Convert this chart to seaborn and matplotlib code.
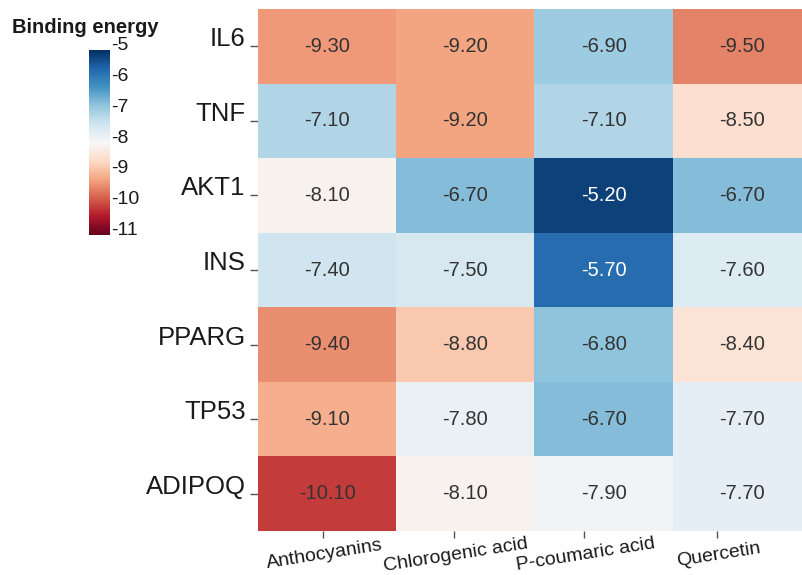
import numpy as np
import pandas as pd
import matplotlib
matplotlib.use("Agg")
import matplotlib.pyplot as plt
import seaborn as sns

# Docking binding energies (kcal/mol) of each compound against each target
targets = ["IL6", "TNF", "AKT1", "INS", "PPARG", "TP53", "ADIPOQ"]
compounds = ["Anthocyanins", "Chlorogenic acid", "P-coumaric acid", "Quercetin"]
anthocyanins = [-9.30, -7.10, -8.10, -7.40, -9.40, -9.10, -10.10]
chlorogenic_acid = [-9.20, -9.20, -6.70, -7.50, -8.80, -7.80, -8.10]
p_coumaric_acid = [-6.90, -7.10, -5.20, -5.70, -6.80, -6.70, -7.90]
quercetin = [-9.50, -8.50, -6.70, -7.60, -8.40, -7.70, -7.70]
cbar_ticks = [-5, -6, -7, -8, -9, -10, -11]

df = pd.DataFrame(
    {
        compounds[0]: anthocyanins,
        compounds[1]: chlorogenic_acid,
        compounds[2]: p_coumaric_acid,
        compounds[3]: quercetin,
    },
    index=targets,
)

sns.set_theme(style="white")
plt.rcParams["font.family"] = ["Liberation Sans", "DejaVu Sans"]

fig = plt.figure(figsize=(8.02, 5.75), dpi=100)
ax = fig.add_axes([0.3217, 0.0765, 0.6895, 0.9078])
cax = fig.add_axes([0.111, 0.5913, 0.026, 0.3217])

sns.heatmap(
    df,
    ax=ax,
    cbar_ax=cax,
    cmap="RdBu",
    vmin=-11,
    vmax=-5,
    annot=True,
    fmt=".2f",
    annot_kws={"fontsize": 14.5},
    linewidths=0,
)

# light text on the darkest blue cells, dark grey elsewhere
for t in ax.texts:
    v = float(t.get_text())
    t.set_color("white" if v > -6.0 else "#333333")

# target labels sit on the tick line like an underscore
ax.set_yticks(np.arange(len(targets)) + 0.5)
ax.set_yticklabels(targets, fontsize=18.5, rotation=0, va="baseline", color="#1a1a1a")
ax.tick_params(axis="y", left=True, length=6, width=1, color="#555555", pad=3)

# compound labels, slightly tilted
xtick_pos = [0.47, 1.42, 2.36, 3.32]
ax.set_xticks(xtick_pos)
ax.set_xticklabels(compounds, fontsize=14, rotation=9, ha="center",
                   rotation_mode="anchor", va="top", color="#1a1a1a")
ax.tick_params(axis="x", bottom=True, length=5, width=1, color="#555555", pad=6)
ax.set_xlabel("")
ax.set_ylabel("")

# colour bar
cax.set_yticks(cbar_ticks)
cax.set_yticklabels([str(v) for v in cbar_ticks], fontsize=14, va="baseline", color="#1a1a1a")
cax.tick_params(axis="y", length=0, pad=1)
for s in cax.spines.values():
    s.set_visible(False)
fig.text(0.015, 0.952, "Binding energy", fontsize=14.5, fontweight="bold",
         ha="left", va="center", color="#1a1a1a")

fig.savefig("out.png", dpi=100)
